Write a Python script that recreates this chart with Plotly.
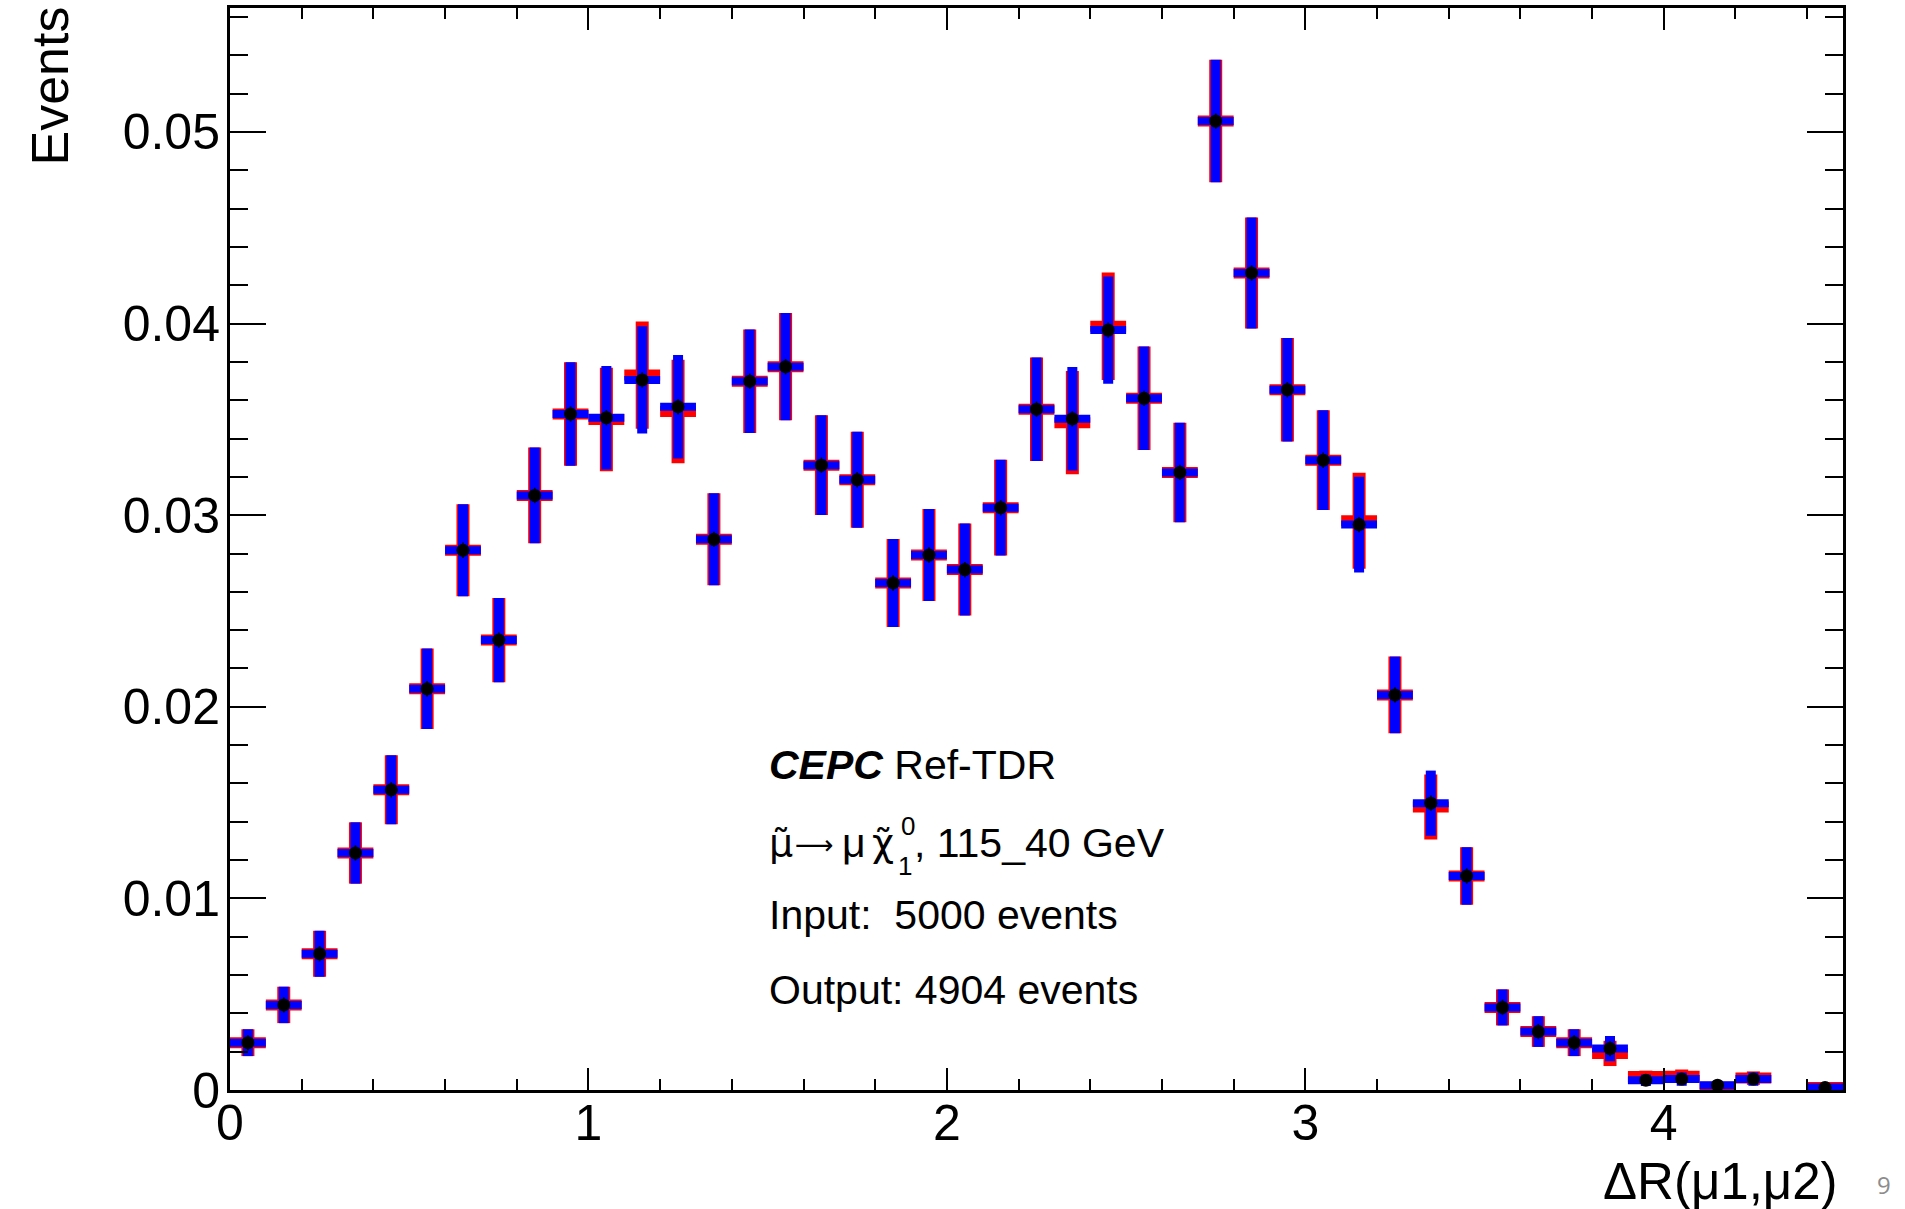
import plotly.graph_objects as go

# Bin centres of the ΔR(μ1,μ2) histogram (bin width 0.1)
bin_centers = [0.05, 0.15, 0.25, 0.35, 0.45, 0.55, 0.65, 0.75, 0.85, 0.95,
               1.05, 1.15, 1.25, 1.35, 1.45, 1.55, 1.65, 1.75, 1.85, 1.95,
               2.05, 2.15, 2.25, 2.35, 2.45, 2.55, 2.65, 2.75, 2.85, 2.95,
               3.05, 3.15, 3.25, 3.35, 3.45, 3.55, 3.65, 3.75, 3.85, 3.95,
               4.05, 4.15, 4.25, 4.45]

# Blue histogram (and black points) values
blue_vals = [0.00247, 0.00444, 0.00711, 0.01237, 0.01567, 0.02094, 0.02817, 0.02348, 0.03103, 0.03528,
             0.03509, 0.03706, 0.03566, 0.02874, 0.03699, 0.03775, 0.03261, 0.03185, 0.02646, 0.02792,
             0.02716, 0.03039, 0.03553, 0.03503, 0.03966, 0.03610, 0.03223, 0.05057, 0.04264, 0.03655,
             0.03287, 0.02951, 0.02062, 0.01497, 0.01117, 0.00431, 0.00305, 0.00247, 0.00216, 0.00051,
             0.00057, 0.00025, 0.00057, 0.00013]

# Red histogram values (nearly identical)
red_vals = [0.00247, 0.00444, 0.00711, 0.01237, 0.01567, 0.02094, 0.02817, 0.02348, 0.03103, 0.03528,
            0.03499, 0.03731, 0.03541, 0.02874, 0.03699, 0.03775, 0.03261, 0.03185, 0.02646, 0.02792,
            0.02716, 0.03039, 0.03553, 0.03483, 0.03986, 0.03610, 0.03223, 0.05057, 0.04264, 0.03655,
            0.03287, 0.02971, 0.02062, 0.01477, 0.01117, 0.00431, 0.00305, 0.00247, 0.00191, 0.00071,
            0.00072, 0.00015, 0.00062, 0.00013]

# Statistical uncertainties (half-length of vertical bars)
errors = [0.0007, 0.00095, 0.0012, 0.0016, 0.0018, 0.0021, 0.0024, 0.0022, 0.0025, 0.0027,
          0.0027, 0.0028, 0.0027, 0.0024, 0.0027, 0.0028, 0.0026, 0.0025, 0.0023, 0.0024,
          0.0024, 0.0025, 0.0027, 0.0027, 0.0028, 0.0027, 0.0026, 0.0032, 0.0029, 0.0027,
          0.0026, 0.0025, 0.0020, 0.0017, 0.0015, 0.00094, 0.0008, 0.0007, 0.00066, 0.0003,
          0.00035, 0.00023, 0.00035, 0.00016]

# Small uncertainties drawn with the black points
point_errors = [0.0004, 0.0004, 0.0004, 0.0004, 0.0004, 0.0004, 0.0004, 0.0004, 0.0004, 0.0004,
                0.0004, 0.0004, 0.0004, 0.0004, 0.0004, 0.0004, 0.0004, 0.0004, 0.0004, 0.0004,
                0.0004, 0.0004, 0.0004, 0.0004, 0.0004, 0.0004, 0.0004, 0.0004, 0.0004, 0.0004,
                0.0004, 0.0004, 0.0004, 0.0004, 0.0004, 0.0004, 0.0004, 0.0004, 0.0004, 0.0003,
                0.0003, 0.0002, 0.0003, 0.0001]

half_width = [0.05] * len(bin_centers)

x_ticks = [0, 1, 2, 3, 4]
y_ticks = [0, 0.01, 0.02, 0.03, 0.04, 0.05]
y_tick_labels = ["0", "0.01", "0.02", "0.03", "0.04", "0.05"]

FONT = "Liberation Sans, Arial, Helvetica, sans-serif"
DEJAVU = "DejaVu Sans, sans-serif"

fig = go.Figure()

fig.add_trace(go.Scatter(
    x=bin_centers, y=red_vals, mode="markers",
    marker=dict(size=1, color="rgba(255,0,0,0)"),
    error_y=dict(type="data", array=errors, visible=True, color="#ff0000", thickness=13, width=0),
    error_x=dict(type="data", array=half_width, visible=True, color="#ff0000", thickness=11, width=0),
    showlegend=False, hoverinfo="skip"))

fig.add_trace(go.Scatter(
    x=bin_centers, y=blue_vals, mode="markers",
    marker=dict(size=1, color="rgba(0,0,255,0)"),
    error_y=dict(type="data", array=errors, visible=True, color="#0000ff", thickness=10, width=0),
    error_x=dict(type="data", array=half_width, visible=True, color="#0000ff", thickness=8, width=0),
    showlegend=False, hoverinfo="skip"))

fig.add_trace(go.Scatter(
    x=bin_centers, y=blue_vals, mode="markers",
    marker=dict(size=13, color="black", symbol="circle"),
    error_y=dict(type="data", array=point_errors, visible=True, color="black", thickness=1.5, width=0),
    showlegend=False, hoverinfo="skip"))

axis_common = dict(
    showline=True, linecolor="black", linewidth=3, mirror="ticks",
    ticks="inside", tickcolor="black", tickwidth=2,
    showgrid=False, zeroline=False,
    tickfont=dict(family=FONT, size=50, color="black"),
)

fig.update_xaxes(
    range=[0, 4.5], tickvals=x_ticks, ticklen=22, ticklabelstandoff=-13,
    minor=dict(ticks="inside", dtick=0.2, ticklen=11, tickcolor="black", tickwidth=2, showgrid=False),
    **axis_common)
fig.update_yaxes(
    range=[0, 0.05647], tickvals=y_ticks, ticktext=y_tick_labels, ticklen=36, ticklabelstandoff=-3,
    minor=dict(ticks="inside", dtick=0.002, ticklen=18, tickcolor="black", tickwidth=2, showgrid=False),
    **axis_common)

def px_x(p):
    return (p - 230) / 1613.0

def px_y(p):
    return (1090 - p) / 1082.0

def label(text, x, y, size, xanchor="left", color="black", family=FONT, **kw):
    return dict(text=text, x=px_x(x), y=px_y(y), xref="paper", yref="paper",
                xanchor=xanchor, yanchor="middle", showarrow=False,
                font=dict(family=family, size=size, color=color), **kw)

LINE2 = 843
annotations = [
    dict(text="Events", x=px_x(49), y=px_y(5), xref="paper", yref="paper",
         xanchor="center", yanchor="top", textangle=-90, showarrow=False,
         font=dict(family=FONT, size=52, color="black")),
    label("ΔR(μ1,μ2)", 1840, 1181, 51, xanchor="right"),
    label("9", 1884, 1185, 24, xanchor="center", color="#8c8c8c", family="Open Sans, sans-serif"),
    label("<b><i>CEPC</i></b> Ref-TDR", 767, 765, 41),
    # second line: μ̃ → μ χ̃ with stacked super/subscripts
    label("μ\u0303", 767, LINE2, 38, family=DEJAVU),
    label("\u27f6", 793, LINE2 + 1, 27, family=DEJAVU),
    label("μ", 840, LINE2, 41),
    label("χ\u0303", 870, LINE2, 38, family=DEJAVU),
    label("0", 908, 826, 26, xanchor="center"),
    label("1", 905, 866, 26, xanchor="center"),
    label(", 115_40 GeV", 912, LINE2, 41),
    label("Input:  5000 events", 767, 915, 41),
    label("Output: 4904 events", 767, 990, 41),
]

fig.update_layout(
    width=1905, height=1209,
    margin=dict(l=230, r=62, t=8, b=119, autoexpand=False),
    paper_bgcolor="white", plot_bgcolor="white",
    annotations=annotations,
    font=dict(family=FONT, color="black"),
)

fig.write_html("out.html")
